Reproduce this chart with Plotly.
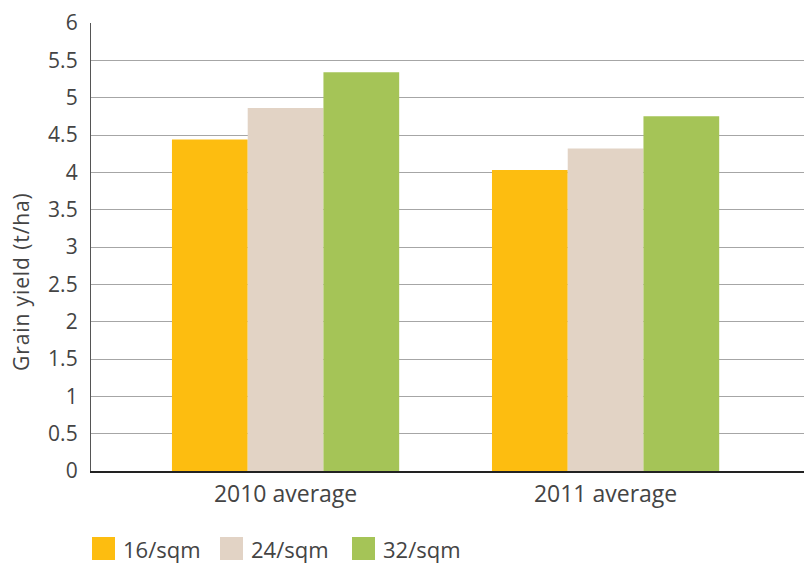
import plotly.graph_objects as go

categories = ["2010 average", "2011 average"]
series_names = ["16/sqm", "24/sqm", "32/sqm"]
values_16 = [4.44, 4.03]
values_24 = [4.86, 4.32]
values_32 = [5.34, 4.75]
colors = ["#FDBD10", "#E2D3C5", "#A5C457"]
y_ticks = [0, 0.5, 1, 1.5, 2, 2.5, 3, 3.5, 4, 4.5, 5, 5.5, 6]
y_title = "Grain yield (t/ha)"

W, H = 804, 563
L, R, T, B = 91, 0, 23, 92
pw, ph = W - L - R, H - T - B

def px(x):
    return (x - L) / pw

def py(y):
    return (H - B - y) / ph

fig = go.Figure()
for name, vals, c in zip(series_names, [values_16, values_24, values_32], colors):
    fig.add_trace(go.Bar(x=categories, y=vals, name=name, showlegend=False,
                         marker=dict(color=c, line=dict(width=0))))

font = "Open Sans, sans-serif"
txt = "#444444"

# manual legend (large square swatches)
legend_x = [92, 220, 352]
shapes, annos = [], []
for lx, name, c in zip(legend_x, series_names, colors):
    shapes.append(dict(type="rect", xref="paper", yref="paper",
                       x0=px(lx), x1=px(lx + 23), y0=py(560), y1=py(537),
                       fillcolor=c, line=dict(width=0)))
    annos.append(dict(xref="paper", yref="paper", x=px(lx + 29), y=py(549),
                      text=name, showarrow=False, xanchor="left", yanchor="middle",
                      font=dict(family=font, size=22, color=txt)))

# y-axis title (placed slightly below plot centre, as in the reference)
annos.append(dict(xref="paper", yref="paper", x=px(21), y=py(282), textangle=-90,
                  text=f'<span style="letter-spacing:0.9px">{y_title}</span>',
                  showarrow=False, xanchor="center", yanchor="middle",
                  font=dict(family=font, size=21, color=txt)))

fig.update_layout(
    width=W, height=H,
    margin=dict(l=L, r=R, t=T, b=B),
    paper_bgcolor="white", plot_bgcolor="white",
    barmode="group", bargap=0.29, bargroupgap=0,
    font=dict(family=font, size=21, color=txt),
    showlegend=False,
    shapes=shapes, annotations=annos,
    xaxis=dict(range=[-0.608, 1.62], showgrid=False, showline=True, linecolor="#222222", linewidth=1.5,
               ticks="", tickfont=dict(family=font, size=23, color=txt), ticklabelstandoff=2),
    yaxis=dict(range=[0, 6], tickvals=y_ticks, ticktext=[f"{v:g}" for v in y_ticks],
               showgrid=True, gridcolor="#A6A6A6", gridwidth=1.4, showline=True, linecolor="#555555",
               linewidth=1.3, ticks="", zeroline=False, ticklabelstandoff=8,
               tickfont=dict(family=font, size=21, color=txt)),
)
fig.write_html("out.html", config={"displayModeBar": False},
               post_script="document.body.style.margin='0';document.body.style.padding='0';")
